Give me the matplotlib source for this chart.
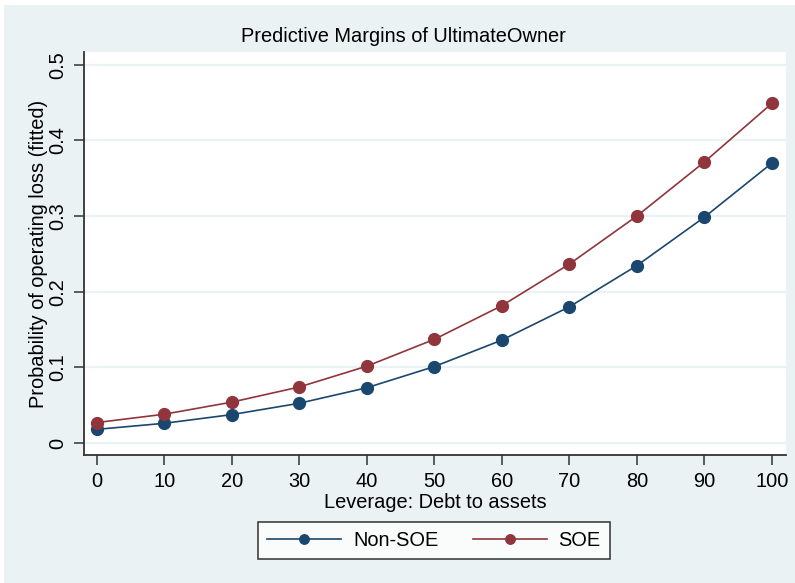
import matplotlib
matplotlib.use("Agg")
import matplotlib.pyplot as plt
from matplotlib.patches import Rectangle

# predictive margins by leverage, by ownership type
leverage = [0, 10, 20, 30, 40, 50, 60, 70, 80, 90, 100]
non_soe = [0.018, 0.026, 0.0375, 0.0525, 0.073, 0.101, 0.136, 0.180, 0.2345, 0.2985, 0.370]
soe = [0.027, 0.038, 0.054, 0.074, 0.1015, 0.137, 0.1815, 0.2365, 0.300, 0.3715, 0.449]
y_ticks = [0, 0.1, 0.2, 0.3, 0.4, 0.5]
y_ticklabels = ["0", "0.1", "0.2", "0.3", "0.4", "0.5"]

NAVY, MAROON = "#1a476f", "#90353b"
BG = "#eaf2f3"
FS = 14.4

plt.rcParams["font.family"] = ["Liberation Sans", "DejaVu Sans"]

W, H = 795, 583
fig = plt.figure(figsize=(W / 100, H / 100), dpi=100)
fig.patch.set_facecolor("white")
# outer graph region
fig.add_artist(Rectangle((4 / W, 0), 1 - 4 / W, 1 - 5 / H, transform=fig.transFigure,
                         facecolor=BG, edgecolor="none", zorder=0))

ax = fig.add_axes([84 / W, 1 - 455 / H, (786 - 84) / W, (455 - 52) / H])
ax.set_facecolor("white")

ax.plot(leverage, non_soe, "-o", color=NAVY, lw=1.2, ms=8.5, label="Non-SOE", zorder=3)
ax.plot(leverage, soe, "-o", color=MAROON, lw=1.2, ms=8.5, label="SOE", zorder=3)

ax.set_xlim(-1.88, 102.1)
ax.set_ylim(-0.0159, 0.517)
ax.set_xticks(leverage)
ax.set_yticks(y_ticks)
ax.set_yticklabels(y_ticklabels, rotation=90, va="center")
ax.grid(axis="y", color=BG, lw=1.6)
ax.set_axisbelow(True)

for s in ("top", "right"):
    ax.spines[s].set_visible(False)
for s in ("left", "bottom"):
    ax.spines[s].set_color("#333333")
    ax.spines[s].set_linewidth(1.3)
ax.tick_params(axis="both", direction="out", length=7, width=1.1, color="#333333",
               labelsize=FS, labelcolor="black", pad=5)

ax.set_xlabel("Leverage: Debt to assets", fontsize=FS, labelpad=1.5)
ax.set_ylabel("Probability of operating loss (fitted)", fontsize=FS, labelpad=0)
fig.text(403 / W, 1 - 37 / H, "Predictive Margins of UltimateOwner", ha="center",
         va="center", fontsize=FS)

leg = fig.legend(loc="center", bbox_to_anchor=(434 / W, 1 - 540.5 / H), ncol=2,
                 fontsize=FS, frameon=True, fancybox=False, edgecolor="black",
                 handlelength=3.7, columnspacing=1.7, handletextpad=0.6,
                 borderpad=0.45, borderaxespad=0, markerscale=0.8)
leg.get_frame().set_linewidth(1.1)

fig.savefig("out.png", dpi=100, facecolor=fig.get_facecolor())
